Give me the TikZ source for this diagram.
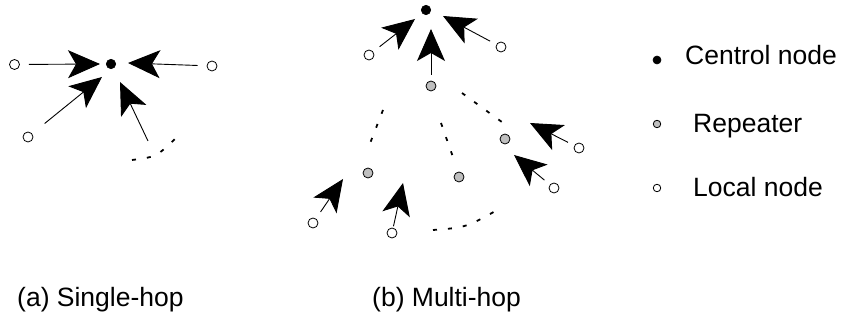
\documentclass[tikz,border=0pt]{standalone}
\usepackage{fontspec}
\setmainfont{Liberation Sans}
\usetikzlibrary{arrows.meta}
\begin{document}
\begin{tikzpicture}[x=1pt,y=-1pt,
  central/.style={circle, fill=black, draw=black, line width=0.6pt, inner sep=0, minimum size=9.5pt},
  repeater/.style={circle, fill=black!25, draw=black, line width=0.8pt, inner sep=0, minimum size=10pt},
  local/.style={circle, fill=white, draw=black, line width=0.8pt, inner sep=0, minimum size=10pt},
  link/.style={line width=0.9pt, -{Stealth[length=32pt,width=28pt,inset=8pt]}},
  more/.style={line width=1.8pt, dash pattern=on 4pt off 11pt},
  txt/.style={inner sep=0, anchor=base west, font=\fontsize{26.5}{32}\selectfont}]
\useasboundingbox (0,0) rectangle (841,320);

% (a) single-hop star
\node[central] (a0) at (111,64) {};
\node[local] (a1) at (14.5,64.5) {};
\node[local] (a2) at (212,66) {};
\node[local] (a3) at (28,137) {};
\coordinate (a1t) at (100,64);
\coordinate (a2t) at (128,63);
\coordinate (a3t) at (102,77);
\coordinate (a4s) at (148,141);
\coordinate (a4t) at (120,82);
\coordinate (a5) at (132,160);
\coordinate (a6) at (175,139);
\draw[link, shorten <=9pt] (a1) -- (a1t);
\draw[link, shorten <=9pt] (a2) -- (a2t);
\draw[link, shorten <=16pt] (a3) -- (a3t);
\draw[link] (a4s) -- (a4t);
\draw[more] (a5) .. controls (156,157) .. (a6);

% (b) multi-hop tree
\node[central] (b0) at (426,10) {};
\node[local] (b1) at (369,55) {};
\node[local] (b2) at (501,47) {};
\node[repeater] (r1) at (431,86) {};
\node[repeater] (r2) at (368,173) {};
\node[repeater] (r3) at (459,177) {};
\node[repeater] (r4) at (505,139) {};
\node[local] (b3) at (313,223) {};
\node[local] (b4) at (392,233) {};
\node[local] (b5) at (579,148) {};
\node[local] (b6) at (554,188) {};
\coordinate (b1t) at (415,19);
\coordinate (r1t) at (431,29);
\coordinate (b2t) at (443,16);
\coordinate (b3t) at (343,179);
\coordinate (b4t) at (403,183);
\coordinate (b5t) at (530,123);
\coordinate (b6t) at (514,155);
\draw[link, shorten <=8pt] (b1) -- (b1t);
\draw[link, shorten <=6pt] (r1) -- (r1t);
\draw[link, shorten <=7pt] (b2) -- (b2t);
\draw[link, shorten <=8pt] (b3) -- (b3t);
\draw[link, shorten <=1.5pt] (b4) -- (b4t);
\draw[link, shorten <=7pt] (b5) -- (b5t);
\draw[link, shorten <=7pt] (b6) -- (b6t);
\coordinate (d1s) at (462,93);
\coordinate (d1e) at (506,125);
\coordinate (d2s) at (383,110);
\coordinate (d2e) at (369,146);
\coordinate (d3s) at (441,123);
\coordinate (d3e) at (454,160);
\coordinate (d4s) at (433,230);
\coordinate (d4e) at (499,209);
\draw[more] (d1s) -- (d1e);
\draw[more] (d2s) -- (d2e);
\draw[more] (d3s) -- (d3e);
\draw[more] (d4s) .. controls (466,227.5) .. (d4e);

% legend
\node[central, minimum size=8pt] (k1) at (657,60) {};
\node[repeater, minimum size=7.5pt] (k2) at (657,124) {};
\node[local, minimum size=7.5pt] (k3) at (657,188) {};
\node[txt] (k1t) at (685,65) {Centrol node};
\node[txt] (k2t) at (693,133) {Repeater};
\node[txt] (k3t) at (693,197) {Local node};

% captions
\node[txt] (capa) at (17,307) {(a) Single-hop};
\node[txt] (capb) at (372,307) {(b) Multi-hop};
\end{tikzpicture}
\end{document}
